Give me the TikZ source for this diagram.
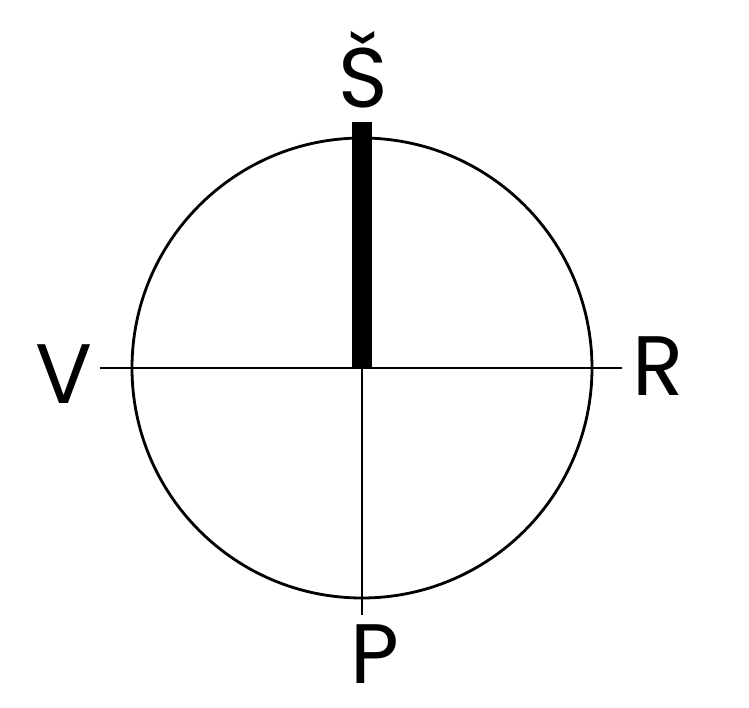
\documentclass[tikz,border=0pt]{standalone}
\usepackage{fontspec}
\setmainfont{Poppins}
\usetikzlibrary{positioning, calc}
\definecolor{Ink}{HTML}{000000}
\tikzset{
    dialline/.style={draw=Ink, line width=1.6pt},
    axisline/.style={draw=Ink, line width=1.3pt},
    needle/.style={draw=Ink, line width=0.4cm},
    compasslabel/.style={text=Ink, anchor=base, inner sep=0pt, font=\fontsize{48}{48}\selectfont},
}
\begin{document}
\begin{tikzpicture}
    \useasboundingbox (-7.24,-6.78) rectangle (7.74,7.36);
    \coordinate (o) at (0,0);
    \node[circle, dialline, minimum size=9.2cm, inner sep=0pt] (dial) at (o) {};

    \coordinate (west) at (-5.24,0);
    \coordinate (east) at (5.2,0);
    \coordinate (south) at (0,-4.94);
    \coordinate (north) at (0,4.92);

    \draw[axisline] (west) -- (east);
    \draw[axisline] (o) -- (south);
    \draw[needle] (o) -- (north);

    \node[compasslabel] (s) at (0.02,5.2) {Š};
    \node[compasslabel] (v) at (-5.96,-0.7) {V};
    \node[compasslabel] (r) at (5.92,-0.54) {R};
    \node[compasslabel] (p) at (0.26,-6.3) {P};
\end{tikzpicture}
\end{document}
